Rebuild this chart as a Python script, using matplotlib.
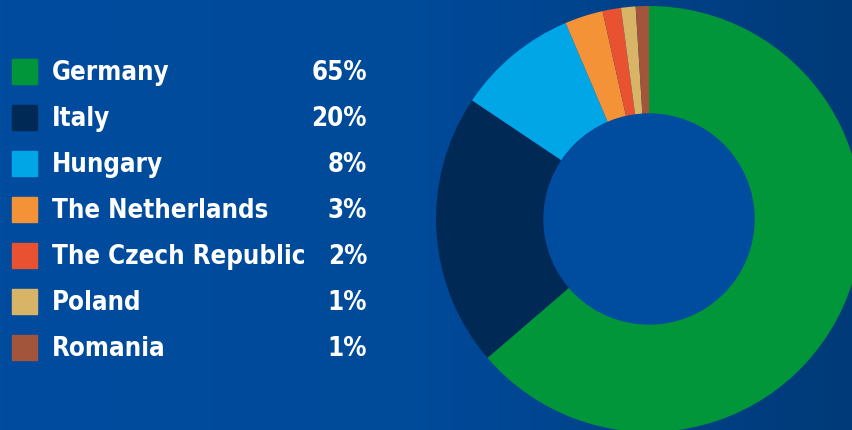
import numpy as np
import matplotlib.pyplot as plt
from matplotlib.colors import LinearSegmentedColormap

# Data
countries = ['Germany', 'Italy', 'Hungary', 'The Netherlands',
             'The Czech Republic', 'Poland', 'Romania']
labels = ['65%', '20%', '8%', '3%', '2%', '1%', '1%']
# slice shares as measured from the donut itself
shares = [63.7, 20.7, 9.2, 2.9, 1.4, 1.1, 1.0]
colors = ['#009639', '#002a55', '#00a6e6', '#f39237',
          '#e85230', '#d8b466', '#a3553b']

W, H = 852, 430
plt.rcParams['font.family'] = ['DejaVu Sans']

fig = plt.figure(figsize=(W / 100, H / 100), dpi=100)
ax = fig.add_axes([0, 0, 1, 1])

# horizontal background gradient
bg = LinearSegmentedColormap.from_list('bg', ['#004c9e', '#004a9a', '#003a78'])
grad = np.linspace(0, 1, 256).reshape(1, -1)
ax.imshow(grad, cmap=bg, extent=[0, W, 0, H], aspect='auto', zorder=0)

# donut
cx, cy, R = 649, H - 219, 213
ax.pie(shares, colors=colors, startangle=90, counterclock=False,
       center=(cx, cy), radius=R, frame=True,
       wedgeprops=dict(width=108, linewidth=0))
ax.add_patch(plt.Circle((cx, cy), R - 108, color='#004c9f', zorder=3))

# legend
fs = 18.5
cap = 0.73 * fs * 100 / 72 / 2   # half cap height in px
y0, step = 71, 46
for i, (name, lab, col) in enumerate(zip(countries, labels, colors)):
    y = H - (y0 + i * step)
    ax.add_patch(plt.Rectangle((12, y - 12.5), 25, 25, color=col, zorder=4))
    ax.text(52, y - cap, name, color='white', fontsize=fs, fontweight='bold',
            fontstretch='condensed', va='baseline', ha='left', zorder=5)
    ax.text(367, y - cap, lab, color='white', fontsize=fs, fontweight='bold',
            fontstretch='condensed', va='baseline', ha='right', zorder=5)

ax.set_xlim(0, W)
ax.set_ylim(0, H)
ax.set_aspect('equal')
ax.axis('off')

fig.savefig('out.png', dpi=100)
